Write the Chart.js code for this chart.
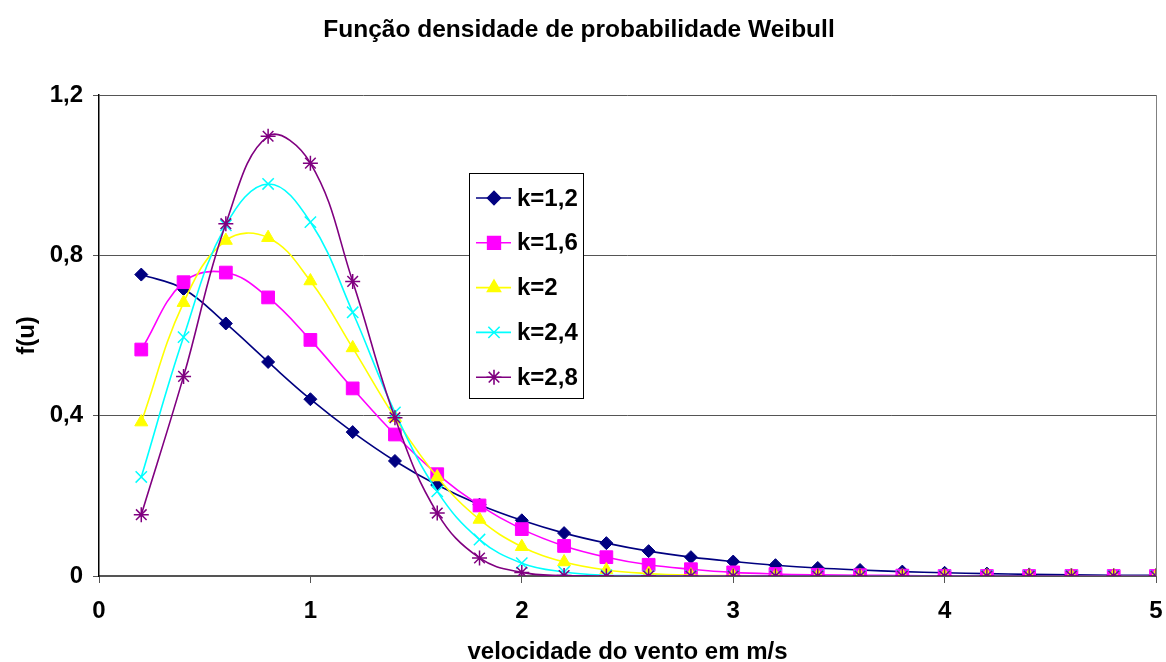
<!DOCTYPE html>
<html>
<head>
<meta charset="utf-8">
<script src="https://cdn.jsdelivr.net/npm/chart.js@4/dist/chart.umd.min.js"></script>
<style>
  body { margin: 0; background: #fff; }
</style>
</head>
<body>
<canvas id="myChart" width="1166" height="662"></canvas>
<script>
const velocidade = [0.2, 0.4, 0.6, 0.8, 1.0, 1.2, 1.4, 1.6, 1.8, 2.0, 2.2, 2.4, 2.6,
  2.8, 3.0, 3.2, 3.4, 3.6, 3.8, 4.0, 4.2, 4.4, 4.6, 4.8, 5.0];

const k12 = [0.752, 0.716, 0.630, 0.534, 0.441, 0.359, 0.287, 0.227, 0.178, 0.139,
  0.107, 0.082, 0.062, 0.047, 0.036, 0.027, 0.020, 0.015, 0.011, 0.008, 0.006,
  0.004, 0.003, 0.002, 0.002];
const k16 = [0.565, 0.733, 0.757, 0.695, 0.589, 0.468, 0.353, 0.254, 0.176, 0.117,
  0.075, 0.047, 0.028, 0.017, 0.009, 0.005, 0.003, 0.002, 0.001, 0.000, 0.000,
  0.000, 0.000, 0.000, 0.000];
const k20 = [0.384, 0.682, 0.837, 0.844, 0.736, 0.569, 0.395, 0.247, 0.141, 0.073,
  0.035, 0.015, 0.006, 0.002, 0.001, 0.000, 0.000, 0.000, 0.000, 0.000, 0.000,
  0.000, 0.000, 0.000, 0.000];
const k24 = [0.247, 0.596, 0.875, 0.978, 0.883, 0.658, 0.408, 0.211, 0.091, 0.032,
  0.010, 0.002, 0.001, 0.000, 0.000, 0.000, 0.000, 0.000, 0.000, 0.000, 0.000,
  0.000, 0.000, 0.000, 0.000];
const k28 = [0.153, 0.498, 0.879, 1.097, 1.030, 0.735, 0.395, 0.157, 0.045, 0.009,
  0.001, 0.000, 0.000, 0.000, 0.000, 0.000, 0.000, 0.000, 0.000, 0.000, 0.000,
  0.000, 0.000, 0.000, 0.000];

const seriesNames = ["k=1,2", "k=1,6", "k=2", "k=2,4", "k=2,8"];
const seriesValues = [k12, k16, k20, k24, k28];
const seriesColors = ["#000080", "#FF00FF", "#FFFF00", "#00FFFF", "#800080"];
const seriesMarkers = ["rectRot", "rect", "triangle", "crossRot", "star"];
const seriesRadius = [6.5, 9, 7.5, 8, 7.5];

const fontFamily = "'Liberation Sans', Arial, sans-serif";
const comma = (v) => Number(v.toFixed(1)).toString().replace(".", ",");

const datasets = seriesNames.map((name, i) => ({
  label: name,
  data: velocidade.map((x, j) => ({ x: x, y: seriesValues[i][j] })),
  borderColor: seriesColors[i],
  backgroundColor: seriesColors[i],
  pointBackgroundColor: seriesColors[i],
  pointBorderColor: seriesColors[i],
  pointStyle: seriesMarkers[i],
  pointRadius: seriesRadius[i],
  pointBorderWidth: i >= 3 ? 1.5 : 1,
  borderWidth: 1.6,
  tension: 0.4,
  order: 5 - i,
}));

// legend box inside the plot, like the Excel original
const boxLegend = {
  id: "boxLegend",
  afterDatasetsDraw(chart) {
    const ctx = chart.ctx;
    const left = 469, top = 173, w = 114, h = 225;
    ctx.save();
    ctx.fillStyle = "#fff";
    ctx.fillRect(left, top, w, h);
    ctx.strokeStyle = "#000";
    ctx.lineWidth = 1;
    ctx.strokeRect(left + 0.5, top + 0.5, w, h);
    ctx.font = "bold 24px " + fontFamily;
    ctx.textBaseline = "middle";
    ctx.textAlign = "left";
    seriesNames.forEach((name, i) => {
      const y = 198 + i * 44.8;
      ctx.strokeStyle = seriesColors[i];
      ctx.lineWidth = 1.6;
      ctx.beginPath();
      ctx.moveTo(476, y);
      ctx.lineTo(511, y);
      ctx.stroke();
      ctx.fillStyle = seriesColors[i];
      Chart.helpers.drawPoint(ctx, {
        pointStyle: seriesMarkers[i],
        radius: seriesRadius[i],
        borderWidth: i >= 3 ? 1.5 : 1,
        rotation: 0,
      }, 494, y);
      ctx.fillStyle = "#000";
      ctx.fillText(name, 517, y + 1);
    });
    ctx.restore();
  },
};

// gray right edge of the plot area
const rightEdge = {
  id: "rightEdge",
  beforeDatasetsDraw(chart) {
    const { ctx, chartArea } = chart;
    ctx.save();
    ctx.strokeStyle = "#808080";
    ctx.lineWidth = 1;
    ctx.beginPath();
    ctx.moveTo(chartArea.right + 0.5, chartArea.top);
    ctx.lineTo(chartArea.right + 0.5, chartArea.bottom);
    ctx.stroke();
    ctx.restore();
  },
};

const config = {
  type: "line",
  data: { datasets: datasets },
  options: {
    responsive: false,
    animation: false,
    layout: { padding: { left: 0, right: 8, top: 0, bottom: 0 } },
    plugins: {
      legend: { display: false },
      tooltip: { enabled: false },
      title: {
        display: true,
        text: "Função densidade de probabilidade Weibull",
        color: "#000",
        font: { family: fontFamily, size: 24.5, weight: "bold" },
        padding: { top: 16, bottom: 49.6 },
      },
    },
    scales: {
      x: {
        type: "linear",
        min: 0,
        max: 5,
        afterFit(scale) {
          scale.height = 86;
          scale.paddingLeft = 0;
          scale.paddingRight = 0;
        },
        grid: {
          drawOnChartArea: false,
          drawTicks: true,
          tickLength: 7,
          color: "#555",
        },
        border: { color: "#555", width: 2 },
        ticks: {
          stepSize: 1,
          padding: 14,
          color: "#000",
          font: { family: fontFamily, size: 24, weight: "bold" },
          callback: (v) => comma(v),
        },
        title: {
          display: true,
          text: "velocidade do vento em m/s",
          color: "#000",
          font: { family: fontFamily, size: 24, weight: "bold" },
          padding: { top: 0, bottom: -4.5 },
        },
      },
      y: {
        min: 0,
        max: 1.2,
        afterFit(scale) {
          scale.width = 99;
          scale.paddingTop = 0;
          scale.paddingBottom = 0;
        },
        grid: {
          color: "#555",
          tickLength: 6,
        },
        border: { color: "#000", width: 1.5 },
        ticks: {
          stepSize: 0.4,
          padding: 10,
          color: "#000",
          font: { family: fontFamily, size: 24, weight: "bold" },
          callback: (v) => comma(v),
        },
        title: {
          display: true,
          text: "f(u)",
          color: "#000",
          font: { family: fontFamily, size: 24, weight: "bold" },
          padding: { top: 13, bottom: 0 },
        },
      },
    },
  },
  plugins: [rightEdge, boxLegend],
};

const myChart = new Chart(document.getElementById("myChart"), config);
</script>
</body>
</html>
